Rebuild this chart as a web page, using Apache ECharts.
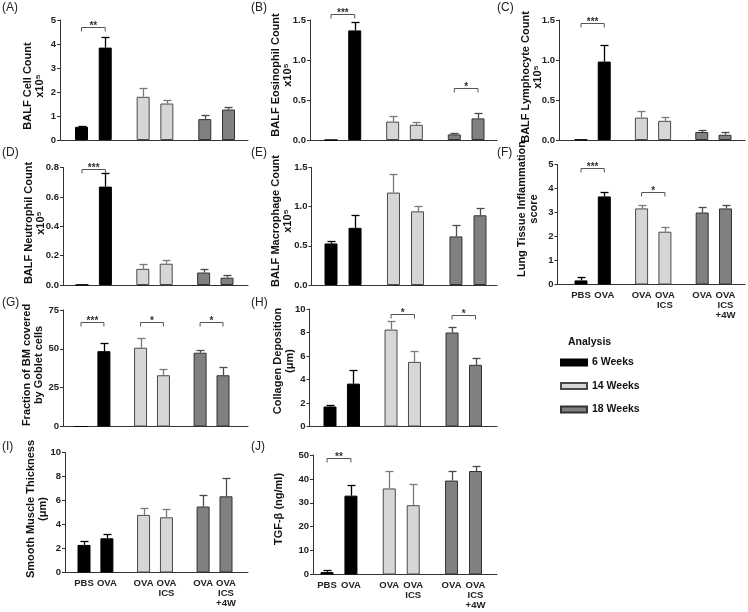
<!DOCTYPE html>
<html><head><meta charset="utf-8">
<script src="https://cdn.jsdelivr.net/npm/echarts@6/dist/echarts.min.js"></script>
<style>html,body{margin:0;padding:0;background:#fff}#c{width:748px;height:612px}</style>
</head><body><div id="c"></div>
<script>
// ---------- data ----------
const groupLabels = ["PBS", "OVA", "OVA", "OVA\nICS", "OVA", "OVA\nICS\n+4W"];
const weekNames = ["6 Weeks", "14 Weeks", "18 Weeks"];
const barGroup = [0, 0, 1, 1, 2, 2];

const cellCount      = [0.55, 3.85, 1.80, 1.52, 0.87, 1.27];
const cellCountSem   = [0.03, 0.45, 0.38, 0.16, 0.18, 0.11];
const eosinophil     = [0, 1.37, 0.23, 0.19, 0.07, 0.27];
const eosinophilSem  = [0, 0.11, 0.07, 0.04, 0.02, 0.07];
const lymphocyte     = [0.005, 0.98, 0.28, 0.24, 0.10, 0.065];
const lymphocyteSem  = [0, 0.21, 0.08, 0.045, 0.02, 0.035];
const neutrophil     = [0.002, 0.67, 0.11, 0.145, 0.085, 0.05];
const neutrophilSem  = [0, 0.095, 0.035, 0.025, 0.022, 0.018];
const macrophage     = [0.53, 0.73, 1.18, 0.94, 0.62, 0.89];
const macrophageSem  = [0.03, 0.17, 0.24, 0.07, 0.14, 0.09];
const inflammation   = [0.17, 3.67, 3.17, 2.20, 3.00, 3.17];
const inflammationSem= [0.15, 0.20, 0.16, 0.18, 0.25, 0.16];
const goblet         = [0, 48.5, 50.7, 33, 47.5, 33];
const gobletSem      = [0, 5.5, 6.3, 4, 2, 5];
const collagen       = [1.7, 3.65, 8.25, 5.5, 8.0, 5.25];
const collagenSem    = [0.1, 1.15, 0.75, 0.9, 0.5, 0.6];
const smoothMuscle   = [2.3, 2.85, 4.8, 4.6, 5.5, 6.35];
const smoothMuscleSem= [0.3, 0.4, 0.6, 0.7, 0.95, 1.5];
const tgfBeta        = [1.0, 33, 36, 29, 39.3, 43.3];
const tgfBetaSem     = [1.0, 4.3, 7.3, 9, 4, 2.2];

// significance brackets: [fromBar, toBar, yValue, label]
const sigA = [[0, 1, 4.72, "**"]];
const sigB = [[0, 1, 1.58, "***"], [4, 5, 0.65, "*"]];
const sigC = [[0, 1, 1.46, "***"]];
const sigD = [[0, 1, 0.79, "***"]];
const sigE = [];
const sigF = [[0, 1, 4.84, "***"], [2, 3, 3.87, "*"]];
const sigG = [[0, 1, 67.5, "***"], [2, 3, 67.5, "*"], [4, 5, 67.5, "*"]];
const sigH = [[2, 3, 9.55, "*"], [4, 5, 9.5, "*"]];
const sigI = [];
const sigJ = [[0, 1, 48.6, "**"]];

// y axis ranges / titles
const yTitles = ["BALF Cell Count\nx10\u2075", "BALF Eosinophil Count\nx10\u2075", "BALF Lymphocyte Count\nx10\u2075",
  "BALF Neutrophil Count\nx10\u2075", "BALF Macrophage Count\nx10\u2075", "Lung Tissue Inflammation\nscore",
  "Fraction of BM covered\nby Goblet cells", "Collagen Deposition\n(\u03bcm)", "Smooth Muscle Thickness\n(\u03bcm)", "TGF-\u03b2 (ng/ml)"];
const yMax      = [5, 1.5, 1.5, 0.8, 1.5, 5, 75, 10, 10, 50];
const yInterval = [1, 0.5, 0.5, 0.2, 0.5, 1, 25, 2, 2, 10];
const yDecimals = [0, 1, 1, 1, 1, 0, 0, 0, 0, 0];
const panelLetters = ["(A)", "(B)", "(C)", "(D)", "(E)", "(F)", "(G)", "(H)", "(I)", "(J)"];

// ---------- layout ----------
const slotPos = [0, 1, 2.6, 3.6, 5.2, 6.2];
// [axisX, axisEnd, yTop, yBottom, firstBarCenter, lastBarCenter, showXLabels]
const geom = [
  [60, 248, 20, 140, 81.5, 228.5, false],
  [310, 497, 20, 140, 331, 478, false],
  [559, 745, 20, 140, 581, 725, false],
  [63, 248, 167.5, 285, 82, 227, false],
  [311.5, 497, 167.5, 285, 331, 480, false],
  [557.5, 745, 164.5, 284.5, 581, 725.5, true],
  [63, 248, 310, 426.5, 81, 223, false],
  [309.5, 497, 309, 426.5, 330, 475.5, false],
  [65, 248, 452.5, 572.5, 84, 226, true],
  [313, 497, 455, 574.5, 327, 475.5, true]
];
// axis title centres [x, y]
const titlePos = [[34, 86], [281.5, 75], [532, 77], [34.5, 223], [281.5, 221], [528, 209],
  [32.5, 365], [283.5, 361], [37, 509], [278.5, 509]];
const labelPos = [[2,2],[251,2],[497,2],[2,147],[251,147],[497,147],[2,297],[251,297],[2,441],[251,441]];

const fills   = ["#000000", "#d6d6d6", "#808080"];
const borders = ["#000000", "#4a4a4a", "#333333"];
const errCols = ["#000000", "#7a7a7a", "#4a4a4a"];
const FONT = '"Liberation Sans", Arial, sans-serif';

const panelValues = [cellCount, eosinophil, lymphocyte, neutrophil, macrophage, inflammation, goblet, collagen, smoothMuscle, tgfBeta];
const panelSem = [cellCountSem, eosinophilSem, lymphocyteSem, neutrophilSem, macrophageSem, inflammationSem, gobletSem, collagenSem, smoothMuscleSem, tgfBetaSem];
const panelSig = [sigA, sigB, sigC, sigD, sigE, sigF, sigG, sigH, sigI, sigJ];

const grids = [], xAxes = [], yAxes = [], series = [], graphics = [];

function errRender(params, api) {
  const x = api.value(0), m = api.value(1), t = api.value(2), g = api.value(3);
  if (!(t > m)) return null;
  const a = api.coord([x, m]), b = api.coord([x, t]);
  const st = { stroke: errCols[g], lineWidth: 1.3 };
  const cx = Math.round(a[0]) + 0.5, ty = Math.round(b[1]) + 0.5;
  return { type: 'group', children: [
    { type: 'line', shape: { x1: cx, y1: a[1], x2: cx, y2: ty }, style: st },
    { type: 'line', shape: { x1: cx - 4, y1: ty, x2: cx + 4, y2: ty }, style: st }
  ]};
}
function makeSigRender(labels) {
  return function (params, api) {
    const a = api.coord([api.value(0), api.value(2)]), b = api.coord([api.value(1), api.value(2)]);
    const y = Math.round(a[1]) + 0.5;
    return { type: 'group', children: [
      { type: 'polyline', shape: { points: [[a[0], y + 4], [a[0], y], [b[0], y], [b[0], y + 4]] },
        style: { stroke: '#555', lineWidth: 1, fill: null } },
      { type: 'text', style: { text: labels[params.dataIndex], x: (a[0] + b[0]) / 2, y: y - 1,
        align: 'center', verticalAlign: 'middle', font: 'bold 10px ' + FONT, fill: '#333' } }
    ]};
  };
}

geom.forEach((g, i) => {
  const [ax, ae, yt, yb, c1, c6, showX] = g;
  const u = (c6 - c1) / (slotPos[5] - slotPos[0]);
  const xMin = -(c1 - ax) / u, xMax = (ae - c1) / u;
  grids.push({ left: ax, top: yt, width: ae - ax, height: yb - yt, outerBoundsMode: 'none', containLabel: false });
  xAxes.push({
    type: 'value', gridIndex: i, min: xMin, max: xMax,
    splitLine: { show: false }, axisTick: { show: false },
    axisLine: { onZero: false, lineStyle: { color: '#333', width: 1 } },
    axisLabel: {
      show: showX, customValues: slotPos, margin: 6,
      formatter: v => { const k = slotPos.findIndex(p => Math.abs(p - v) < 1e-6); return k >= 0 ? groupLabels[k] : ''; },
      fontFamily: FONT, fontWeight: 'bold', fontSize: 9.5, lineHeight: 10, color: '#222'
    }
  });
  yAxes.push({
    type: 'value', gridIndex: i, min: 0, max: yMax[i], interval: yInterval[i],
    splitLine: { show: false },
    axisLine: { show: true, onZero: false, lineStyle: { color: '#333', width: 1 } },
    axisTick: { show: true, length: 3, lineStyle: { color: '#333' } },
    axisLabel: { margin: 4, fontFamily: FONT, fontWeight: 'bold', fontSize: 9.5, color: '#222',
      formatter: v => v.toFixed(yDecimals[i]) }
  });
  const vals = panelValues[i], sem = panelSem[i];
  for (let w = 0; w < 3; w++) {
    const data = [];
    vals.forEach((v, k) => { if (barGroup[k] === w) data.push([slotPos[k], v]); });
    series.push({
      type: 'bar', name: weekNames[w], xAxisIndex: i, yAxisIndex: i, data: data,
      barWidth: 13, barGap: '-100%', silent: true,
      itemStyle: { color: fills[w], borderColor: borders[w], borderWidth: 1 },
      emphasis: { disabled: true }
    });
  }
  series.push({
    type: 'custom', xAxisIndex: i, yAxisIndex: i, silent: true, z: 3,
    renderItem: errRender,
    data: vals.map((v, k) => [slotPos[k], v, v + sem[k], barGroup[k]])
  });
  const sig = panelSig[i];
  if (sig.length) {
    series.push({
      type: 'custom', xAxisIndex: i, yAxisIndex: i, silent: true, z: 4, clip: false,
      renderItem: makeSigRender(sig.map(s => s[3])),
      data: sig.map(s => [slotPos[s[0]], slotPos[s[1]], s[2]])
    });
  }
  graphics.push({ type: 'text', left: labelPos[i][0], top: labelPos[i][1],
    style: { text: panelLetters[i], font: '12px ' + FONT, fill: '#222' } });
  graphics.push({ type: 'text', x: titlePos[i][0], y: titlePos[i][1], rotation: Math.PI / 2,
    style: { text: yTitles[i], font: 'bold 11px ' + FONT, lineHeight: 12, fill: '#111',
      align: 'center', verticalAlign: 'middle' } });
});

graphics.push({ type: 'text', left: 568, top: 337, style: { text: 'Analysis', font: 'bold 10.5px ' + FONT, fill: '#111' } });

const chart = echarts.init(document.getElementById('c'), null, { renderer: 'canvas' });
chart.setOption({
  animation: false,
  backgroundColor: '#fff',
  grid: grids, xAxis: xAxes, yAxis: yAxes, series: series,
  legend: {
    data: weekNames, orient: 'vertical', left: 560, top: 357, padding: 0, icon: 'rect',
    itemWidth: 26, itemHeight: 6, itemGap: 12.5, selectedMode: false,
    textStyle: { fontFamily: FONT, fontWeight: 'bold', fontSize: 10.5, color: '#111' }
  },
  graphic: graphics
});
</script></body></html>
